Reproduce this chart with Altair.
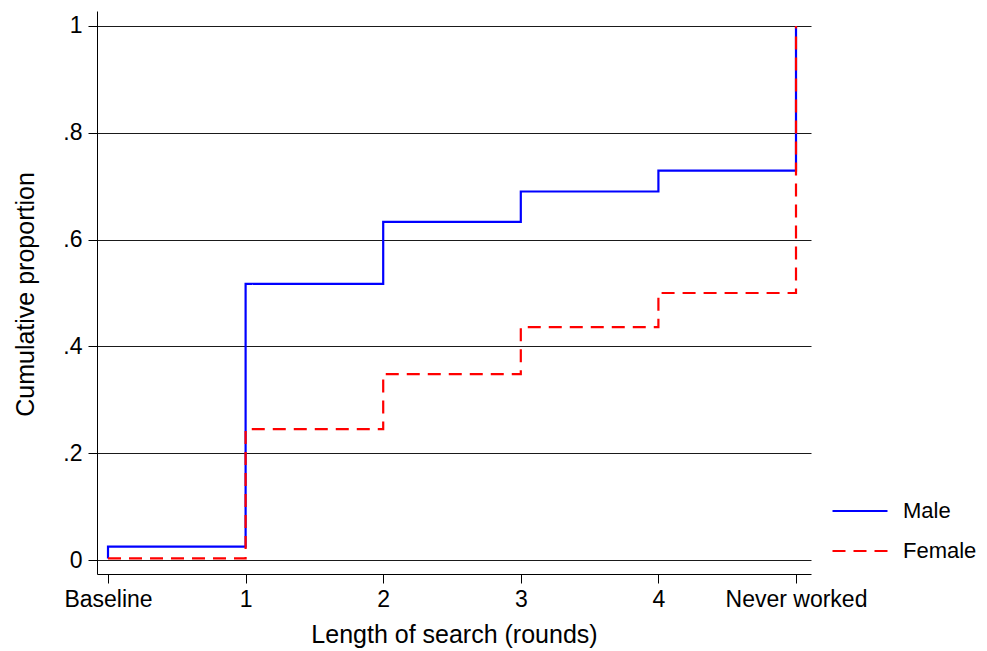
import json

import altair as alt
import pandas as pd

# Survey rounds and their axis labels
rounds = [0, 1, 2, 3, 4, 5]
round_labels = ["Baseline", "1", "2", "3", "4", "Never worked"]

# Cumulative proportion that has found work, by round
male = [0.025, 0.517, 0.633, 0.690, 0.729, 1.0]
female = [0.003, 0.245, 0.348, 0.436, 0.500, 1.0]
male_start = 0.003  # level the male curve rises from at baseline

series_names = ["Male", "Female"]
series_colors = ["#0000ff", "#ff0000"]
series_dash = [[1, 0], [13, 8]]

male_x = [rounds[0]] + rounds
male_y = [male_start] + male
male_df = pd.DataFrame({
    "round": male_x,
    "prop": male_y,
    "series": "Male",
    "idx": range(len(male_x)),
})
female_df = pd.DataFrame({
    "round": rounds,
    "prop": female,
    "series": "Female",
    "idx": range(len(rounds)),
})

FONT = "Liberation Sans"
x_label_expr = json.dumps(round_labels) + "[datum.value]"
y_label_expr = "datum.value == 0 ? '0' : datum.value == 1 ? '1' : '.' + round(datum.value * 10)"

x_enc = alt.X(
    "round:Q",
    scale=alt.Scale(domain=[-0.08, 5.109], nice=False, zero=False),
    axis=alt.Axis(
        values=rounds,
        labelExpr=x_label_expr,
        title="Length of search (rounds)",
        grid=False,
        tickSize=9,
        labelPadding=5,
        labelFontSize=23,
        titleFontSize=25,
        titleFontWeight="normal",
        titleBaseline="middle",
        titleY=60,
        labelFlush=False,
        labelOverlap=False,
    ),
)
y_enc = alt.Y(
    "prop:Q",
    scale=alt.Scale(domain=[-0.0262, 1.028], nice=False, zero=False),
    axis=alt.Axis(
        values=[0, 0.2, 0.4, 0.6, 0.8, 1.0],
        labelExpr=y_label_expr,
        title="Cumulative proportion",
        grid=True,
        gridColor="#1a1a1a",
        gridWidth=1,
        tickSize=9,
        labelPadding=6,
        labelFontSize=23,
        titleFontSize=25,
        titleFontWeight="normal",
        titleBaseline="middle",
        titleX=-72,
        titleY=283,
        labelFlush=False,
        labelOverlap=False,
    ),
)
color_enc = alt.Color(
    "series:N",
    scale=alt.Scale(domain=series_names, range=series_colors),
    legend=alt.Legend(
        title=None,
        orient="none",
        legendX=734,
        legendY=471,
        symbolType="stroke",
        symbolSize=3025,
        symbolStrokeWidth=2.2,
        labelFontSize=22,
        labelOffset=14,
        rowPadding=-34,
        labelColor="black",
    ),
)
dash_enc = alt.StrokeDash(
    "series:N",
    scale=alt.Scale(domain=series_names, range=series_dash),
    legend=alt.Legend(title=None),
)


def step_line(df):
    return alt.Chart(df).mark_line(
        interpolate="step-after", strokeWidth=2.2
    ).encode(
        x=x_enc,
        y=y_enc,
        color=color_enc,
        strokeDash=dash_enc,
        order="idx:Q",
    )


chart = alt.layer(step_line(male_df), step_line(female_df)).properties(
    width=714,
    height=563,
    autosize=alt.AutoSizeParams(type="none"),
    padding={"left": 97, "top": 11, "right": 176, "bottom": 77},
    background="white",
).configure_view(
    stroke=None
).configure_axis(
    labelFont=FONT,
    titleFont=FONT,
    labelColor="black",
    titleColor="black",
    domainColor="black",
    tickColor="black",
    domainWidth=1,
    tickWidth=1,
).configure_legend(
    labelFont=FONT,
)

chart.save("out.html", embed_options={"renderer": "svg", "actions": False})
